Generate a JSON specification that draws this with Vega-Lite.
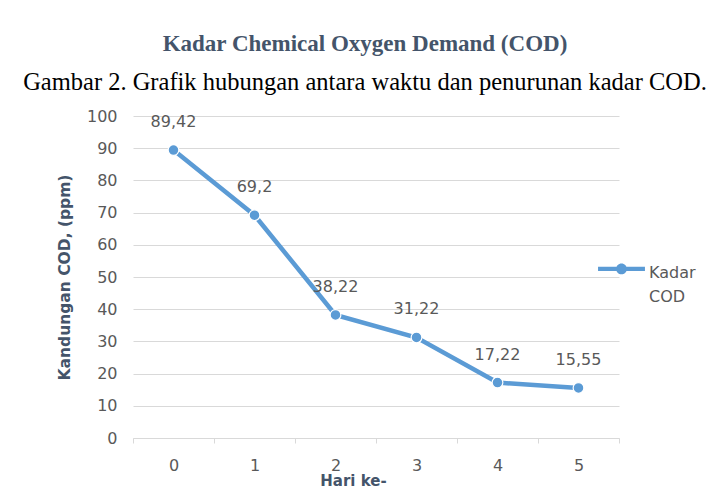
{
  "$schema": "https://vega.github.io/schema/vega-lite/v6.json",
  "width": 486,
  "height": 322,
  "autosize": "none",
  "padding": {"left": 133, "top": 116, "right": 90, "bottom": 51},
  "background": "white",
  "config": {
    "view": {"stroke": null},
    "font": "DejaVu Sans",
    "style": {"guide-label": {"lineHeight": 24}}
  },
  "title": {
    "text": "Kadar Chemical Oxygen Demand (COD)",
    "subtitle": "Gambar 2. Grafik hubungan antara waktu dan penurunan kadar COD.",
    "font": "Liberation Serif",
    "fontSize": 23,
    "fontWeight": "bold",
    "color": "#44546A",
    "subtitleFont": "Liberation Serif",
    "subtitleFontSize": 24.5,
    "subtitleColor": "#000000",
    "subtitlePadding": 15,
    "anchor": "middle",
    "dx": -11,
    "offset": 14
  },
  "data": {
    "values": [
      {"hari": "0", "cod": 89.42, "label": "89,42", "seri": "Kadar COD"},
      {"hari": "1", "cod": 69.2, "label": "69,2", "seri": "Kadar COD"},
      {"hari": "2", "cod": 38.22, "label": "38,22", "seri": "Kadar COD"},
      {"hari": "3", "cod": 31.22, "label": "31,22", "seri": "Kadar COD"},
      {"hari": "4", "cod": 17.22, "label": "17,22", "seri": "Kadar COD"},
      {"hari": "5", "cod": 15.55, "label": "15,55", "seri": "Kadar COD"}
    ]
  },
  "encoding": {
    "x": {
      "field": "hari",
      "type": "ordinal",
      "scale": {"paddingInner": 0, "paddingOuter": 0},
      "axis": {
        "title": "Hari ke-",
        "titleFont": "DejaVu Sans",
        "titleFontSize": 15,
        "titleFontWeight": "bold",
        "titleColor": "#44546A",
        "titleX": 220,
        "titleY": 47,
        "titleBaseline": "alphabetic",
        "labelAngle": 0,
        "labelFontSize": 16,
        "labelColor": "#595959",
        "labelPadding": 14,
        "domainColor": "#D9D9D9",
        "domainWidth": 1.2,
        "tickColor": "#D9D9D9",
        "tickBand": "extent",
        "tickSize": 5,
        "grid": false
      }
    },
    "y": {
      "field": "cod",
      "type": "quantitative",
      "scale": {"domain": [0, 100], "nice": false},
      "axis": {
        "title": "Kandungan COD, (ppm)",
        "titleFont": "DejaVu Sans",
        "titleFontSize": 15.5,
        "titleFontWeight": "bold",
        "titleColor": "#44546A",
        "titlePadding": 14,
        "values": [0, 10, 20, 30, 40, 50, 60, 70, 80, 90, 100],
        "labelFontSize": 16,
        "labelColor": "#595959",
        "labelPadding": 16,
        "domain": false,
        "ticks": false,
        "gridColor": "#D9D9D9",
        "gridWidth": 1
      }
    }
  },
  "layer": [
    {
      "mark": {
        "type": "line",
        "strokeWidth": 4.5,
        "point": {"filled": true, "size": 115, "stroke": "white", "strokeWidth": 1.2}
      },
      "encoding": {
        "color": {
          "field": "seri",
          "type": "nominal",
          "scale": {"range": ["#5B9BD5"]},
          "legend": {
            "title": null,
            "orient": "none",
            "legendX": 465,
            "legendY": 125,
            "symbolType": "M-1,0.1H1V0.28H-1Z M0.23,0.19A0.23,0.23 0 1 1 -0.23,0.19A0.23,0.23 0 1 1 0.23,0.19Z",
            "symbolSize": 2200,
            "symbolFillColor": "#5B9BD5",
            "symbolStrokeWidth": 0,
            "labelExpr": "['Kadar', 'COD']",
            "labelFontSize": 16,
            "labelColor": "#595959",
            "labelOffset": 4,
            "labelBaseline": "top",
            "padding": 0
          }
        }
      }
    },
    {
      "mark": {"type": "text", "dy": -28, "fontSize": 16, "color": "#595959"},
      "encoding": {"text": {"field": "label"}}
    }
  ]
}
